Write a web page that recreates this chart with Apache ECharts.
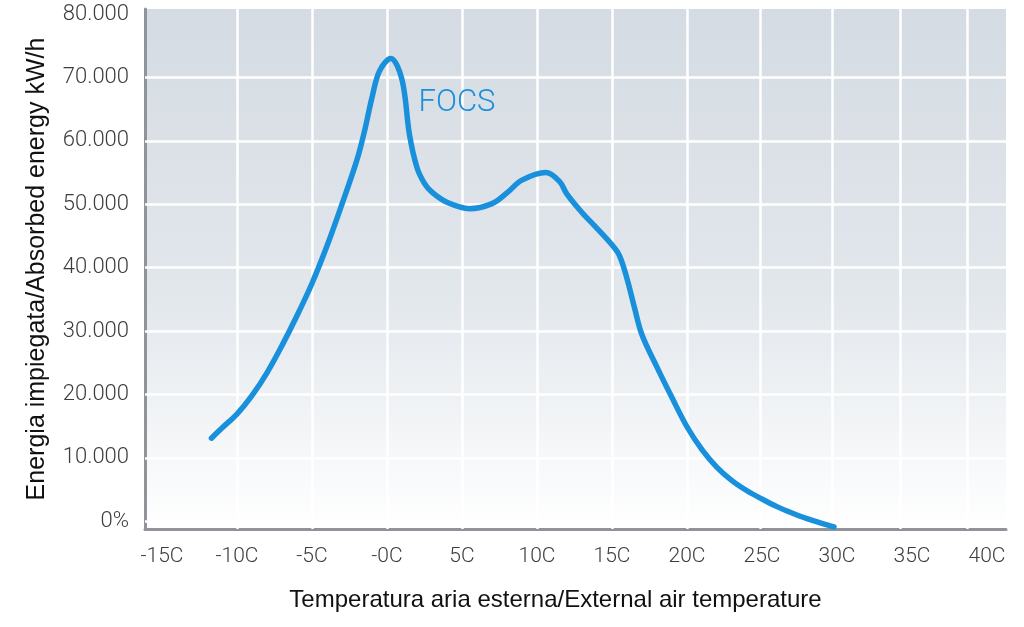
<!DOCTYPE html>
<html><head><meta charset="utf-8">
<script src="https://cdn.jsdelivr.net/npm/echarts@6/dist/echarts.min.js"></script>
<style>html,body{margin:0;padding:0;background:#fff}#c{width:1024px;height:627px}</style>
</head><body><div id="c"></div>
<script>
const seriesName = 'FOCS';
const temps  = [-11.7, -11, -10, -9, -8, -7, -6, -5, -4, -3, -2, -1.5, -1, -0.5, 0.25, 1, 1.5, 2, 2.5, 3, 4, 5.5, 7, 8, 9, 10.6, 11.5, 12, 13, 14, 15, 15.5, 16, 16.5, 17, 18, 19, 20, 21, 22, 23, 24, 25, 26, 27, 28, 29, 29.8];
const energy = [13100, 14700, 16900, 19800, 23400, 27700, 32400, 37500, 43400, 50000, 57000, 61500, 66800, 71000, 73000, 69700, 61000, 55800, 53300, 51900, 50300, 49300, 50100, 51800, 53800, 55000, 53600, 51600, 48700, 46200, 43600, 41900, 38300, 33700, 29400, 24300, 19500, 14900, 11300, 8500, 6400, 4800, 3500, 2300, 1300, 400, -350, -900];
const xTickValues = [-15, -10, -5, 0, 5, 10, 15, 20, 25, 30, 35, 40];
const xTickLabels = ['-15C', '-10C', '-5C', '-0C', '5C', '10C', '15C', '20C', '25C', '30C', '35C', '40C'];
const yTickValues = [0, 10000, 20000, 30000, 40000, 50000, 60000, 70000, 80000];
const yTickLabels = ['0%', '10.000', '20.000', '30.000', '40.000', '50.000', '60.000', '70.000', '80.000'];
const xGridValues = [-10, -5, 0, 5, 10, 15, 20, 24.9, 29.7, 34.2, 38.7];
const yGridValues = [0, 10000, 20000, 30000, 40000, 50000, 60000, 70000];
const labelPoint = [4.67, 65980];
const xTitle = 'Temperatura aria esterna/External air temperature';
const yTitle = 'Energia impiegata/Absorbed energy kW/h';

const lineColor = '#1990dc';
const chart = echarts.init(document.getElementById('c'), null, {renderer: 'canvas'});
const data = temps.map((t, i) => [t, energy[i]]);
const gridMarks = xGridValues.map(v => ({xAxis: v})).concat(yGridValues.map(v => ({yAxis: v})));

chart.setOption({
  animation: false,
  backgroundColor: '#ffffff',
  grid: {
    left: 145, right: 18, top: 9, bottom: 98,
    show: true,
    borderWidth: 0,
    backgroundColor: new echarts.graphic.LinearGradient(0, 0, 0, 1, [
      {offset: 0, color: '#d4dbe2'},
      {offset: 0.55, color: '#e2e7ec'},
      {offset: 1, color: '#ffffff'}
    ])
  },
  xAxis: {
    type: 'value', min: -16.13, max: 41.27,
    name: xTitle, nameLocation: 'middle', nameGap: 59,
    nameTextStyle: {fontFamily: 'Liberation Sans', fontSize: 24, color: '#111', padding: [0, 40, 0, 0]},
    axisLine: {show: true, onZero: false, lineStyle: {color: '#909498', width: 3}},
    axisTick: {show: false},
    splitLine: {show: false},
    axisLabel: {
      customValues: xTickValues,
      formatter: v => xTickLabels[xTickValues.indexOf(v)],
      fontFamily: 'Roboto', fontWeight: 300, fontSize: 21, color: '#3c3c3c', margin: 17
    }
  },
  yAxis: {
    type: 'value', min: -1230, max: 80800,
    name: yTitle, nameLocation: 'middle', nameGap: 95, nameRotate: 90,
    nameTextStyle: {fontFamily: 'Liberation Sans', fontSize: 25, color: '#111'},
    axisLine: {show: true, onZero: false, lineStyle: {color: '#909498', width: 3}},
    axisTick: {show: false},
    splitLine: {show: false},
    axisLabel: {
      customValues: yTickValues,
      formatter: v => yTickLabels[yTickValues.indexOf(v)],
      fontFamily: 'Roboto', fontWeight: 300, fontSize: 22, color: '#3c3c3c', margin: 16
    }
  },
  series: [
    {
      type: 'line', data: [], silent: true, z: 1,
      markLine: {
        silent: true, symbol: 'none', animation: false,
        label: {show: false},
        lineStyle: {color: '#ffffff', width: 2.5, type: 'solid'},
        emphasis: {disabled: true},
        data: gridMarks
      }
    },
    {
      name: seriesName, type: 'line', data: data, z: 10,
      smooth: 0.35, showSymbol: false, symbol: 'none',
      lineStyle: {color: lineColor, width: 5.5, cap: 'round', join: 'round'},
      markPoint: {
        symbol: 'circle', symbolSize: 0, silent: true,
        label: {show: true, position: 'inside', formatter: '{a}', color: lineColor,
                fontFamily: 'Roboto', fontWeight: 300, fontSize: 31},
        data: [{coord: labelPoint}]
      }
    }
  ]
});
</script></body></html>
